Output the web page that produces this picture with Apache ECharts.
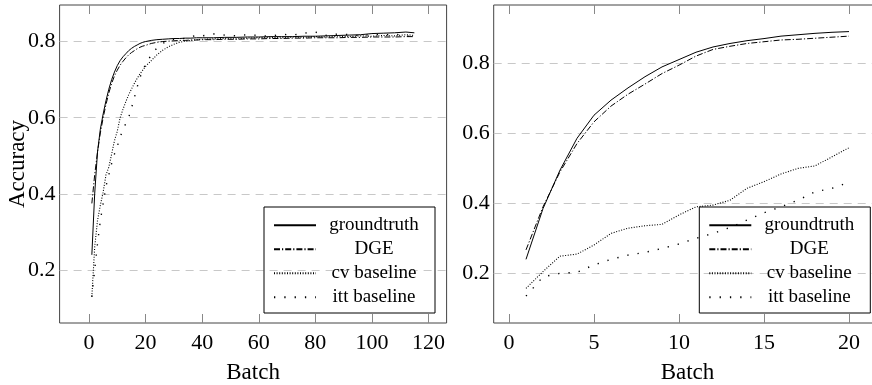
<!DOCTYPE html>
<html><head><meta charset="utf-8">
<script src="https://cdn.jsdelivr.net/npm/echarts@6/dist/echarts.min.js"></script>
<style>html,body{margin:0;padding:0;background:#fff}#c{width:872px;height:385px}</style>
</head><body><div id="c"></div>
<script>
// ---------- data ----------
const seriesNames = ['groundtruth', 'DGE', 'cv baseline', 'itt baseline'];

const leftBatch = [1,2,3,4,5,6,7,8,9,10,11,12,13,14,15,16,17,18,19,20,
  22,24,26,28,30,32,34,36,38,40,
  44,48,52,56,60,64,68,72,76,80,84,88,92,96,100,104,108,112,115];
const leftGroundtruth = [0.24,0.40,0.51,0.57,0.61,0.645,0.675,0.70,0.72,0.737,0.75,0.76,0.768,0.776,0.782,0.787,0.791,0.795,0.798,0.80,
  0.803,0.805,0.806,0.807,0.808,0.808,0.809,0.809,0.81,0.81,
  0.81,0.811,0.811,0.812,0.812,0.813,0.813,0.813,0.814,0.814,0.815,0.816,0.817,0.818,0.821,0.822,0.823,0.825,0.823];
const leftDGE = [0.375,0.45,0.51,0.56,0.60,0.635,0.665,0.69,0.71,0.725,0.738,0.748,0.757,0.765,0.771,0.776,0.781,0.785,0.788,0.79,
  0.795,0.798,0.80,0.801,0.802,0.803,0.803,0.804,0.804,0.805,
  0.805,0.806,0.806,0.807,0.807,0.808,0.808,0.809,0.809,0.81,0.81,0.81,0.811,0.811,0.812,0.812,0.812,0.813,0.813];
const leftCV = [0.13,0.26,0.33,0.37,0.405,0.45,0.47,0.505,0.54,0.565,0.60,0.622,0.642,0.66,0.675,0.69,0.703,0.715,0.725,0.735,
  0.75,0.765,0.777,0.786,0.793,0.798,0.801,0.803,0.805,0.806,
  0.807,0.808,0.807,0.809,0.81,0.811,0.81,0.812,0.811,0.813,0.812,0.814,0.813,0.815,0.814,0.816,0.815,0.818,0.816];
const leftITT = [0.13,0.20,0.27,0.33,0.375,0.42,0.45,0.48,0.505,0.525,0.55,0.567,0.585,0.60,0.625,0.652,0.68,0.705,0.725,0.74,
  0.765,0.783,0.795,0.802,0.806,0.806,0.809,0.812,0.817,0.815,
  0.82,0.817,0.815,0.818,0.816,0.814,0.819,0.817,0.822,0.825,0.816,0.82,0.818,0.815,0.819,0.817,0.82,0.815,0.813];

const rightBatch = [1,2,3,4,5,6,7,8,9,10,11,12,13,14,15,16,17,18,19,20];
const rightGroundtruth = [0.24,0.385,0.495,0.586,0.652,0.695,0.73,0.762,0.79,0.811,0.832,0.847,0.857,0.865,0.871,0.878,0.882,0.886,0.889,0.891];
const rightDGE = [0.267,0.39,0.49,0.571,0.633,0.678,0.712,0.741,0.771,0.795,0.821,0.840,0.849,0.857,0.862,0.867,0.869,0.872,0.875,0.878];
const rightCV = [0.157,0.205,0.249,0.255,0.281,0.314,0.329,0.336,0.340,0.367,0.390,0.395,0.409,0.443,0.462,0.484,0.50,0.507,0.533,0.559];
const rightITT = [0.135,0.19,0.2,0.203,0.224,0.24,0.252,0.26,0.271,0.284,0.30,0.314,0.331,0.352,0.373,0.39,0.409,0.433,0.443,0.46];

const xTicksLeft = [0, 20, 40, 60, 80, 100, 120];
const xTicksRight = [0, 5, 10, 15, 20];
const yTicks = [0.2, 0.4, 0.6, 0.8];

// ---------- chart ----------
const FONT = 'Liberation Serif';
const lineStyles = [
  { type: 'solid', width: 1 },
  { type: [6, 2, 1.2, 2], width: 1 },
  { type: [1, 1.6], width: 1.1 },
  { type: [1.3, 9], width: 1.4 }
];
function pairs(xs, ys) { return xs.map((x, i) => [x, ys[i]]); }

const leftSets = [leftGroundtruth, leftDGE, leftCV, leftITT];
const rightSets = [rightGroundtruth, rightDGE, rightCV, rightITT];

function xAxisPair(gridIndex, min, max, ticks, name) {
  return [
    {
      type: 'value', gridIndex, min, max, position: 'bottom',
      name, nameLocation: 'middle', nameGap: 38,
      nameTextStyle: { fontFamily: FONT, fontSize: 23, color: '#000' },
      axisLine: { show: false },
      axisTick: { show: true, inside: true, length: 9, customValues: ticks, lineStyle: { color: '#888', width: 1 } },
      axisLabel: { customValues: ticks, margin: 9, fontFamily: FONT, fontSize: 22, color: '#000' },
      splitLine: { show: false }
    },
    {
      type: 'value', gridIndex, min, max, position: 'top',
      axisLine: { show: false },
      axisTick: { show: true, inside: true, length: 9, customValues: ticks, lineStyle: { color: '#888', width: 1 } },
      axisLabel: { show: false },
      splitLine: { show: false }
    }
  ];
}
function yAxis(gridIndex, min, max, name) {
  return {
    type: 'value', gridIndex, min, max,
    name, nameLocation: 'middle', nameGap: 30, nameMoveOverlap: false,
    nameTextStyle: { fontFamily: FONT, fontSize: 23, color: '#000' },
    axisLine: { show: false },
    axisTick: { show: false, customValues: yTicks },
    axisLabel: { customValues: yTicks, margin: 4, fontFamily: FONT, fontSize: 22, color: '#000',
      formatter: v => v.toFixed(1) },
    splitLine: { show: true, lineStyle: { color: '#c8c8c8', type: [8, 6], width: 1 } }
  };
}
function legend(left) {
  return {
    orient: 'vertical', left, top: 207,
    padding: [8.3, 8, 5.7, 9],
    itemWidth: 42, itemHeight: 20, itemGap: 4,
    borderColor: '#000', borderWidth: 1, borderRadius: 0,
    backgroundColor: 'transparent',
    selectedMode: false,
    itemStyle: { color: 'rgba(0,0,0,0)', borderColor: 'rgba(0,0,0,0)', borderWidth: 0, opacity: 0 },
    data: seriesNames,
    formatter: n => '{t|' + n + '}',
    textStyle: { fontFamily: FONT, fontSize: 19, color: '#000', lineHeight: 20,
      rich: { t: { width: 106, align: 'center', fontFamily: FONT, fontSize: 19, lineHeight: 20 } } }
  };
}

const series = [];
seriesNames.forEach((n, i) => {
  series.push({ name: n, type: 'line', xAxisIndex: 0, yAxisIndex: 0, data: pairs(leftBatch, leftSets[i]),
    symbol: 'none', smooth: false, color: '#000', lineStyle: Object.assign({ color: '#000' }, lineStyles[i]),
    animation: false, silent: true });
  series.push({ name: n, type: 'line', xAxisIndex: 2, yAxisIndex: 1, data: pairs(rightBatch, rightSets[i]),
    symbol: 'none', smooth: false, color: '#000', lineStyle: Object.assign({ color: '#000' }, lineStyles[i]),
    animation: false, silent: true });
});

const option = {
  backgroundColor: '#fff',
  animation: false,
  grid: [
    { left: 59.6, right: 872 - 446.6, top: 5, bottom: 62, show: true, borderColor: '#444', borderWidth: 1,
      backgroundColor: 'transparent', containLabel: false, outerBoundsMode: 'none' },
    { left: 493.7, right: -9.3, top: 5, bottom: 62, show: true, borderColor: '#444', borderWidth: 1,
      backgroundColor: 'transparent', containLabel: false, outerBoundsMode: 'none' }
  ],
  xAxis: [
    ...xAxisPair(0, -10.4, 126.4, xTicksLeft, 'Batch'),
    ...xAxisPair(1, -0.9, 21.9, xTicksRight, 'Batch')
  ],
  yAxis: [
    yAxis(0, 0.061, 0.896, 'Accuracy'),
    yAxis(1, 0.058, 0.967, '')
  ],
  legend: [legend(264), legend(699.3)],
  series
};
const chart = echarts.init(document.getElementById('c'), null, { renderer: 'canvas' });
chart.setOption(option);
</script>
</body></html>
